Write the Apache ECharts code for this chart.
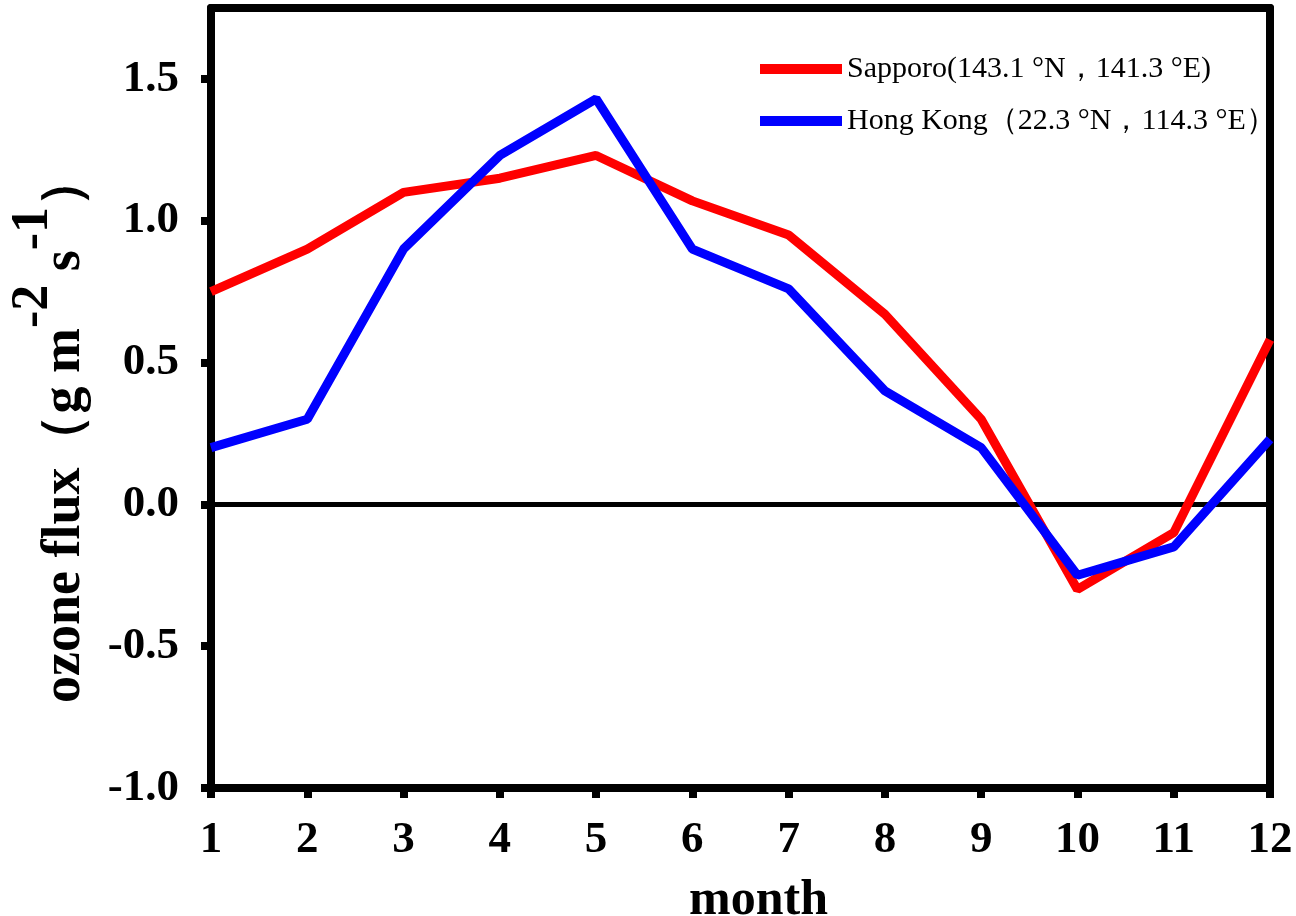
<!DOCTYPE html>
<html>
<head>
<meta charset="utf-8">
<script src="https://cdn.jsdelivr.net/npm/echarts@6/dist/echarts.min.js"></script>
<style>
html,body{margin:0;padding:0;background:#fff;}
#chart{width:1296px;height:916px;}
</style>
</head>
<body>
<div id="chart"></div>
<script>
const months = ['1','2','3','4','5','6','7','8','9','10','11','12'];
const sapporo = [0.75, 0.90, 1.10, 1.15, 1.23, 1.07, 0.95, 0.67, 0.30, -0.30, -0.10, 0.58];
const hongKong = [0.20, 0.30, 0.90, 1.23, 1.43, 0.90, 0.76, 0.40, 0.20, -0.25, -0.15, 0.23];
const seriesNames = ['Sapporo(143.1 °N，141.3 °E)', 'Hong Kong（22.3 °N，114.3 °E）'];
const yMin = -1.0, yMax = 1.75, yStep = 0.5;

const FONT = 'Liberation Serif, Times New Roman, serif';
const chart = echarts.init(document.getElementById('chart'));
const axisLine = {show: true, onZero: false, lineStyle: {color: '#000', width: 8}};
chart.setOption({
  animation: false,
  backgroundColor: '#fff',
  grid: {left: 211, right: 26, top: 8, bottom: 128, containLabel: false, outerBoundsMode: 'none'},
  legend: {
    left: 755, top: 43, orient: 'vertical', icon: 'rect',
    itemWidth: 82, itemHeight: 10, itemGap: 10,
    data: seriesNames,
    textStyle: {fontFamily: FONT, fontSize: 30, color: '#000', lineHeight: 42}
  },
  xAxis: [{
    type: 'category', data: months, boundaryGap: false,
    axisLine: axisLine,
    axisTick: {show: true, inside: false, length: 10, lineStyle: {color: '#000', width: 8}},
    axisLabel: {fontFamily: FONT, fontSize: 45, fontWeight: 'bold', color: '#000', margin: 30},
    splitLine: {show: false},
    name: 'month', nameLocation: 'middle', nameGap: 88,
    nameTextStyle: {fontFamily: FONT, fontSize: 50, fontWeight: 'bold', color: '#000', padding: [0, 0, 0, 36]}
  }, {
    type: 'category', data: months, boundaryGap: false, position: 'top',
    axisLine: axisLine, axisTick: {show: false}, axisLabel: {show: false}
  }],
  yAxis: [{
    type: 'value', min: yMin, max: yMax, interval: yStep,
    axisLine: axisLine,
    axisTick: {show: true, inside: false, length: 10, lineStyle: {color: '#000', width: 8}},
    axisLabel: {fontFamily: FONT, fontSize: 45, fontWeight: 'bold', color: '#000', margin: 32,
      showMaxLabel: false,
      formatter: v => (v > 1.6 ? '' : v.toFixed(1))},
    splitLine: {show: false}
  }, {
    type: 'value', min: yMin, max: yMax, interval: yStep, position: 'right',
    axisLine: axisLine, axisTick: {show: false}, axisLabel: {show: false}, splitLine: {show: false}
  }],
  graphic: [{
    type: 'text', x: 50, y: 428, rotation: Math.PI / 2, z: 10,
    style: {
      text: '{h|\u200b}{b|ozone flux（g m}{s|-2}{b| s}{s|-1}{b|）}',
      align: 'center', verticalAlign: 'middle',
      rich: {
        h: {fontSize: 2, lineHeight: 84},
        b: {fontFamily: FONT, fontSize: 54, fontWeight: 'bold', color: '#000', lineHeight: 54, verticalAlign: 'bottom'},
        s: {fontFamily: FONT, fontSize: 52, fontWeight: 'bold', color: '#000', lineHeight: 54, verticalAlign: 'top'}
      }
    }
  }],
  series: [{
    name: seriesNames[0], type: 'line', data: sapporo, showSymbol: false,
    lineStyle: {color: '#ff0000', width: 9}, itemStyle: {color: '#ff0000'}, z: 3,
    markLine: {
      silent: true, symbol: 'none', z: 2, label: {show: false},
      lineStyle: {color: '#000', type: 'solid', width: 5},
      data: [{yAxis: 0}]
    }
  }, {
    name: seriesNames[1], type: 'line', data: hongKong, showSymbol: false,
    lineStyle: {color: '#0000ff', width: 9}, itemStyle: {color: '#0000ff'}, z: 4
  }]
});
</script>
</body>
</html>
